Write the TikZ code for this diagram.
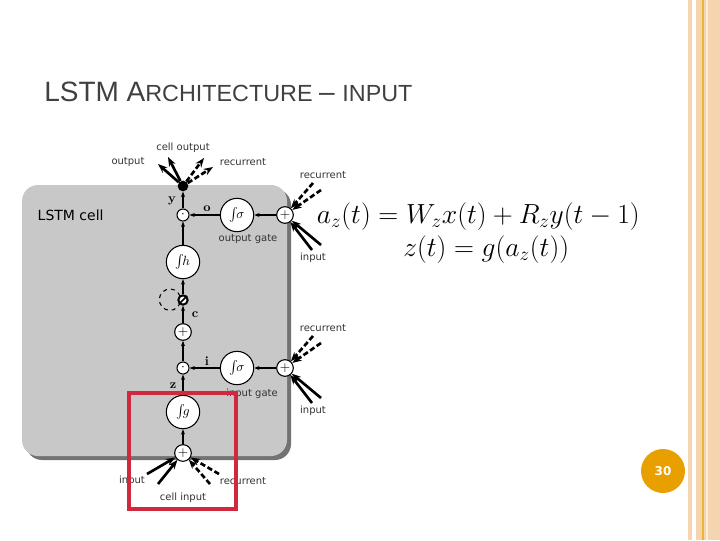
\documentclass[tikz,border=0pt]{standalone}
\usepackage{fontspec}
\setsansfont{DejaVu Sans}
\newfontfamily\titlefont{Liberation Sans}
\usetikzlibrary{arrows.meta}
\definecolor{peach}{HTML}{F5D5B0}
\definecolor{orng}{HTML}{E8A000}
\definecolor{redb}{HTML}{D0283E}
\definecolor{cellg}{HTML}{C8C8C8}
\begin{document}
\begin{tikzpicture}[x=0.75pt,y=-0.75pt,
  lbl/.style={font=\sffamily\fontsize{7.5}{8}\selectfont, text=black!80, inner sep=0},
  op/.style={circle,draw,fill=white,thick,minimum size=12.5pt,inner sep=0,font=\bfseries},
  dotop/.style={circle,draw,fill=white,thick,minimum size=9pt,inner sep=0},
  act/.style={circle,draw,fill=white,thick,minimum size=25pt,inner sep=0},
  arr/.style={-{Stealth[length=4pt]},thick},
  inarr/.style={-{Stealth[length=7pt]},line width=2pt},
  inarrd/.style={-{Stealth[length=7pt]},line width=2pt,dash pattern=on 4pt off 2pt},
  vlab/.style={font=\bfseries\fontsize{9.5}{9.5}\selectfont,inner sep=0}]
\useasboundingbox (0,0) rectangle (720,540);
% right border stripes
\fill[peach] (688,0) rectangle (692,540);
\fill[peach] (696,0) rectangle (720,540);
\fill[orng!80] (702,0) rectangle (703.5,540);
\fill[white!60!peach] (706,0) rectangle (708,540);
% title
\node[anchor=base west,inner sep=0,text=black!75] (title) at (44,101)
 {\titlefont\fontsize{21}{21}\selectfont LSTM A\fontsize{17.5}{17.5}\selectfont RCHITECTURE \fontsize{21}{21}\selectfont– \fontsize{17.5}{17.5}\selectfont INPUT};
% cell box
\fill[black!55,rounded corners=12pt] (26,189) rectangle (291,460);
\fill[cellg,rounded corners=12pt] (22,185) rectangle (287,456);
\node[anchor=west,font=\sffamily\fontsize{10.5}{10.5}\selectfont] (lstm) at (33,215) {LSTM cell};
% nodes
\node[circle,fill=black,minimum size=8pt,inner sep=0] (j) at (183,186) {};
\node[dotop] (m1) at (183,215) {$\cdot$};
\node[act] (so) at (237,215) {$\int\!\!\sigma$};
\node[op] (po) at (285,215) {$+$};
\node[act] (h) at (183,262) {$\int\!\! h$};
\node[circle,draw,line width=1.5pt,fill=white,minimum size=7pt,inner sep=0] (cec) at (183,300) {};
\draw[line width=1.3pt] (cec.south west) -- (cec.north east);
\draw[dashed,thick] (180,296) arc[start angle=20,end angle=340,radius=8pt];
\node[op] (pc) at (183,332) {$+$};
\node[dotop] (m2) at (183,368) {$\cdot$};
\node[act] (si) at (237,368) {$\int\!\!\sigma$};
\node[op] (pi) at (285,368) {$+$};
\node[act] (g) at (183,412) {$\int\!\! g$};
\node[op] (pz) at (183,453) {$+$};
% labels
\node[vlab] (ly) at (172,201) {y};
\node[vlab] (lo) at (207,209) {o};
\node[vlab] (lc) at (195,315) {c};
\node[vlab] (li) at (207,361) {i};
\node[vlab] (lz) at (173,386) {z};
\node[lbl] (og) at (248,239) {output gate};
\node[lbl] (ig) at (252,394) {input gate};
% internal arrows
\draw[arr] (pz) -- (g);
\draw[arr] (g) -- (m2);
\draw[arr] (m2) -- (pc);
\draw[arr] (pc) -- (cec);
\draw[arr] (cec) -- (h);
\draw[arr] (h) -- (m1);
\draw[arr] (m1) -- (j);
\draw[arr] (pi) -- (si);
\draw[arr] (si) -- (m2);
\draw[arr] (po) -- (so);
\draw[arr] (so) -- (m1);
% outputs
\coordinate (o1) at (158,164); \coordinate (o2) at (168,157);
\coordinate (o3) at (204,158); \coordinate (o4) at (213,167);
\draw[inarr] (j) -- (o1); \draw[inarr] (j) -- (o2);
\draw[inarrd] (j) -- (o3); \draw[inarrd] (j) -- (o4);
\node[lbl] (lout) at (128,162) {output};
\node[lbl] (lcout) at (183,148) {cell output};
\node[lbl] (lrec) at (243,162) {recurrent};
% gate inputs
\foreach \p/\q in {po/215,pi/368}{
  \coordinate (r1) at (313,\q-32); \coordinate (r2) at (321,\q-25);
  \coordinate (s1) at (321,\q+30); \coordinate (s2) at (312,\q+35);
  \draw[inarrd] (r1) -- (\p); \draw[inarrd] (r2) -- (\p);
  \draw[inarr] (s1) -- (\p); \draw[inarr] (s2) -- (\p);
  \node[lbl] at (323,\q-40) {recurrent};
  \node[lbl] at (313,\q+43) {input};
}
% cell input
\coordinate (c1) at (147,474); \coordinate (c2) at (158,484);
\coordinate (c3) at (210,484); \coordinate (c4) at (219,474);
\draw[inarr] (c1) -- (pz); \draw[inarr] (c2) -- (pz);
\draw[inarrd] (c3) -- (pz); \draw[inarrd] (c4) -- (pz);
\node[lbl] (lin) at (132,481) {input};
\node[lbl] (lr2) at (243,481) {recurrent};
\node[lbl] (lci) at (183,498) {cell input};
% red box
\draw[redb,line width=3pt] (129,393) rectangle (236,509);
% equations
\node[anchor=base east,inner sep=0,font=\fontsize{20}{20}\selectfont] (e1) at (640,223)
 {$a_z(t) = W_z x(t) + R_z y(t-1)$};
\node[anchor=base west,inner sep=0,font=\fontsize{20}{20}\selectfont] (e2) at (403,256)
 {$z(t) = g\bigl(a_z(t)\bigr)$};
% page number
\node[circle,fill=orng,minimum size=33pt,inner sep=0,text=white,font=\sffamily\bfseries\fontsize{9}{9}\selectfont] (pg) at (663,471) {30};
\end{tikzpicture}
\end{document}
